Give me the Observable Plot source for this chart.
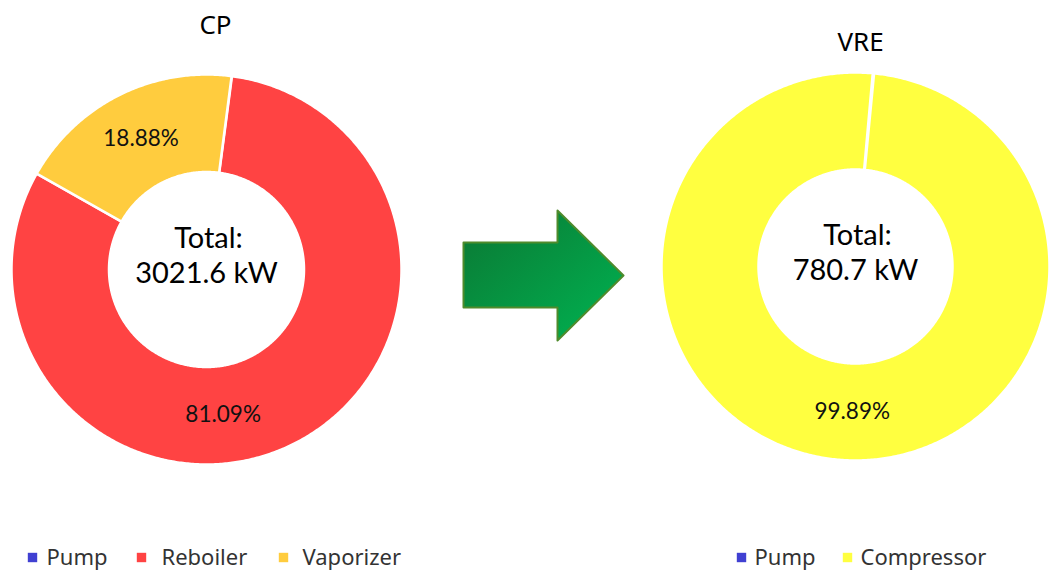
<!DOCTYPE html>
<html><head><meta charset="utf-8">
<script src="https://cdn.jsdelivr.net/npm/d3@7"></script>
<script src="https://cdn.jsdelivr.net/npm/@observablehq/plot@0.6"></script>
<style>html,body{margin:0;padding:0;background:#fff;}</style>
</head><body><div id="chart"></div>
<script>
// ---------- data ----------
const chartNames = ["CP", "VRE"];
const cpCategories = ["Pump", "Reboiler", "Vaporizer"];
const cpShares = [0.03, 81.09, 18.88];          // % of total
const vreCategories = ["Pump", "Compressor"];
const vreShares = [0.11, 99.89];                // % of total
const totalsKW = [3021.6, 780.7];
const allCategories = ["Pump", "Reboiler", "Vaporizer", "Compressor"];
const categoryColors = ["#4040d2", "#ff4343", "#ffcc3e", "#ffff40"];

// ---------- layout ----------
const W = 1061, H = 582;
const layout = {
  CP:  {cx: 206, cy: 269, R: 195, r: 97.5, start: 7.4, title: [215, 25],
        labelShift: {Reboiler: 20}, legendY: 557, legendX: [32, 141, 283], legendTextX: [46, 161, 302]},
  VRE: {cx: 855, cy: 266, R: 194, r: 97, start: 5.1, title: [860, 42],
        labelShift: {Compressor: -4}, legendY: 557, legendX: [741, 847], legendTextX: [754, 860]}
};
const arrowShape = [[463,242],[557,242],[557,210],[623,275],[557,340],[557,307],[463,307],[463,242]];

const series = [
  {name: chartNames[0], cats: cpCategories, vals: cpShares, total: totalsKW[0]},
  {name: chartNames[1], cats: vreCategories, vals: vreShares, total: totalsKW[1]}
];
const rad = d => d * Math.PI / 180;
const polyPts = [], labels = [], centerTop = [], centerBottom = [], legendDots = [], legendTexts = [], titles = [];
for (const s of series) {
  const L = layout[s.name];
  const sum = d3.sum(s.vals);
  let acc = 0;
  titles.push({x: L.title[0], y: L.title[1], text: s.name});
  centerTop.push({x: L.cx + 2, y: L.cy - 31, text: "Total:"});
  centerBottom.push({x: L.cx, y: L.cy + 4, text: `${s.total} kW`});
  s.cats.forEach((c, i) => {
    const a0 = L.start + acc / sum * 360; acc += s.vals[i];
    const a1 = L.start + acc / sum * 360;
    const n = Math.max(2, Math.ceil((a1 - a0) / 0.5));
    const key = s.name + "-" + c;
    const pts = [];
    for (let k = 0; k <= n; k++) { const a = rad(a0 + (a1 - a0) * k / n); pts.push([L.cx + L.R * Math.sin(a), L.cy - L.R * Math.cos(a)]); }
    for (let k = n; k >= 0; k--) { const a = rad(a0 + (a1 - a0) * k / n); pts.push([L.cx + L.r * Math.sin(a), L.cy - L.r * Math.cos(a)]); }
    pts.push(pts[0]);
    pts.forEach(([x, y]) => polyPts.push({key, category: c, x, y}));
    if (s.vals[i] >= 1) {
      const am = rad((a0 + a1) / 2 + (L.labelShift[c] || 0));
      const rm = (L.R + L.r) / 2;
      labels.push({x: L.cx + rm * Math.sin(am), y: L.cy - rm * Math.cos(am), text: s.vals[i].toFixed(2) + "%"});
    }
    legendDots.push({x: L.legendX[i], y: L.legendY, category: c});
    legendTexts.push({x: L.legendTextX[i], y: L.legendY, text: c});
  });
}
const arrowPts = arrowShape.map(([x, y]) => ({x, y}));

const gradientDefs = () => {
  const defs = d3.create("svg:defs");
  const g = defs.append("linearGradient").attr("id", "arrowGrad")
    .attr("x1", 0).attr("y1", 0).attr("x2", 1).attr("y2", 1);
  g.append("stop").attr("offset", "0%").attr("stop-color", "#0b7733");
  g.append("stop").attr("offset", "100%").attr("stop-color", "#00b452");
  return defs.node();
};

const chart = Plot.plot({
  width: W, height: H,
  margin: 0,
  x: {domain: [0, W], axis: null},
  y: {domain: [0, H], reverse: true, axis: null},
  color: {domain: allCategories, range: categoryColors},
  style: {background: "#fff", fontFamily: "'Noto Sans', sans-serif"},
  marks: [
    gradientDefs,
    Plot.line(polyPts, {x: "x", y: "y", z: "key", fill: "category", stroke: "white", strokeWidth: 2.5, strokeLinejoin: "round", curve: "linear"}),
    Plot.line(arrowPts, {x: "x", y: "y", fill: "url(#arrowGrad)", stroke: "#4f8b2c", strokeWidth: 2, curve: "linear"}),
    Plot.text(labels, {x: "x", y: "y", text: "text", fontSize: 22.5, fontFamily: "Lato, sans-serif", fill: "#111"}),
    Plot.text(centerTop, {x: "x", y: "y", text: "text", fontSize: 29, fontFamily: "Lato, sans-serif", fill: "#000"}),
    Plot.text(centerBottom, {x: "x", y: "y", text: "text", fontSize: 29, fontFamily: "Lato, sans-serif", fill: "#000"}),
    Plot.text(titles, {x: "x", y: "y", text: "text", fontSize: 26, fill: "#000"}),
    Plot.dot(legendDots, {x: "x", y: "y", fill: "category", symbol: "square", r: 5.3}),
    Plot.text(legendTexts, {x: "x", y: "y", text: "text", textAnchor: "start", fontSize: 22, fill: "#333"})
  ]
});
document.getElementById("chart").appendChild(chart);
</script>
</body></html>
